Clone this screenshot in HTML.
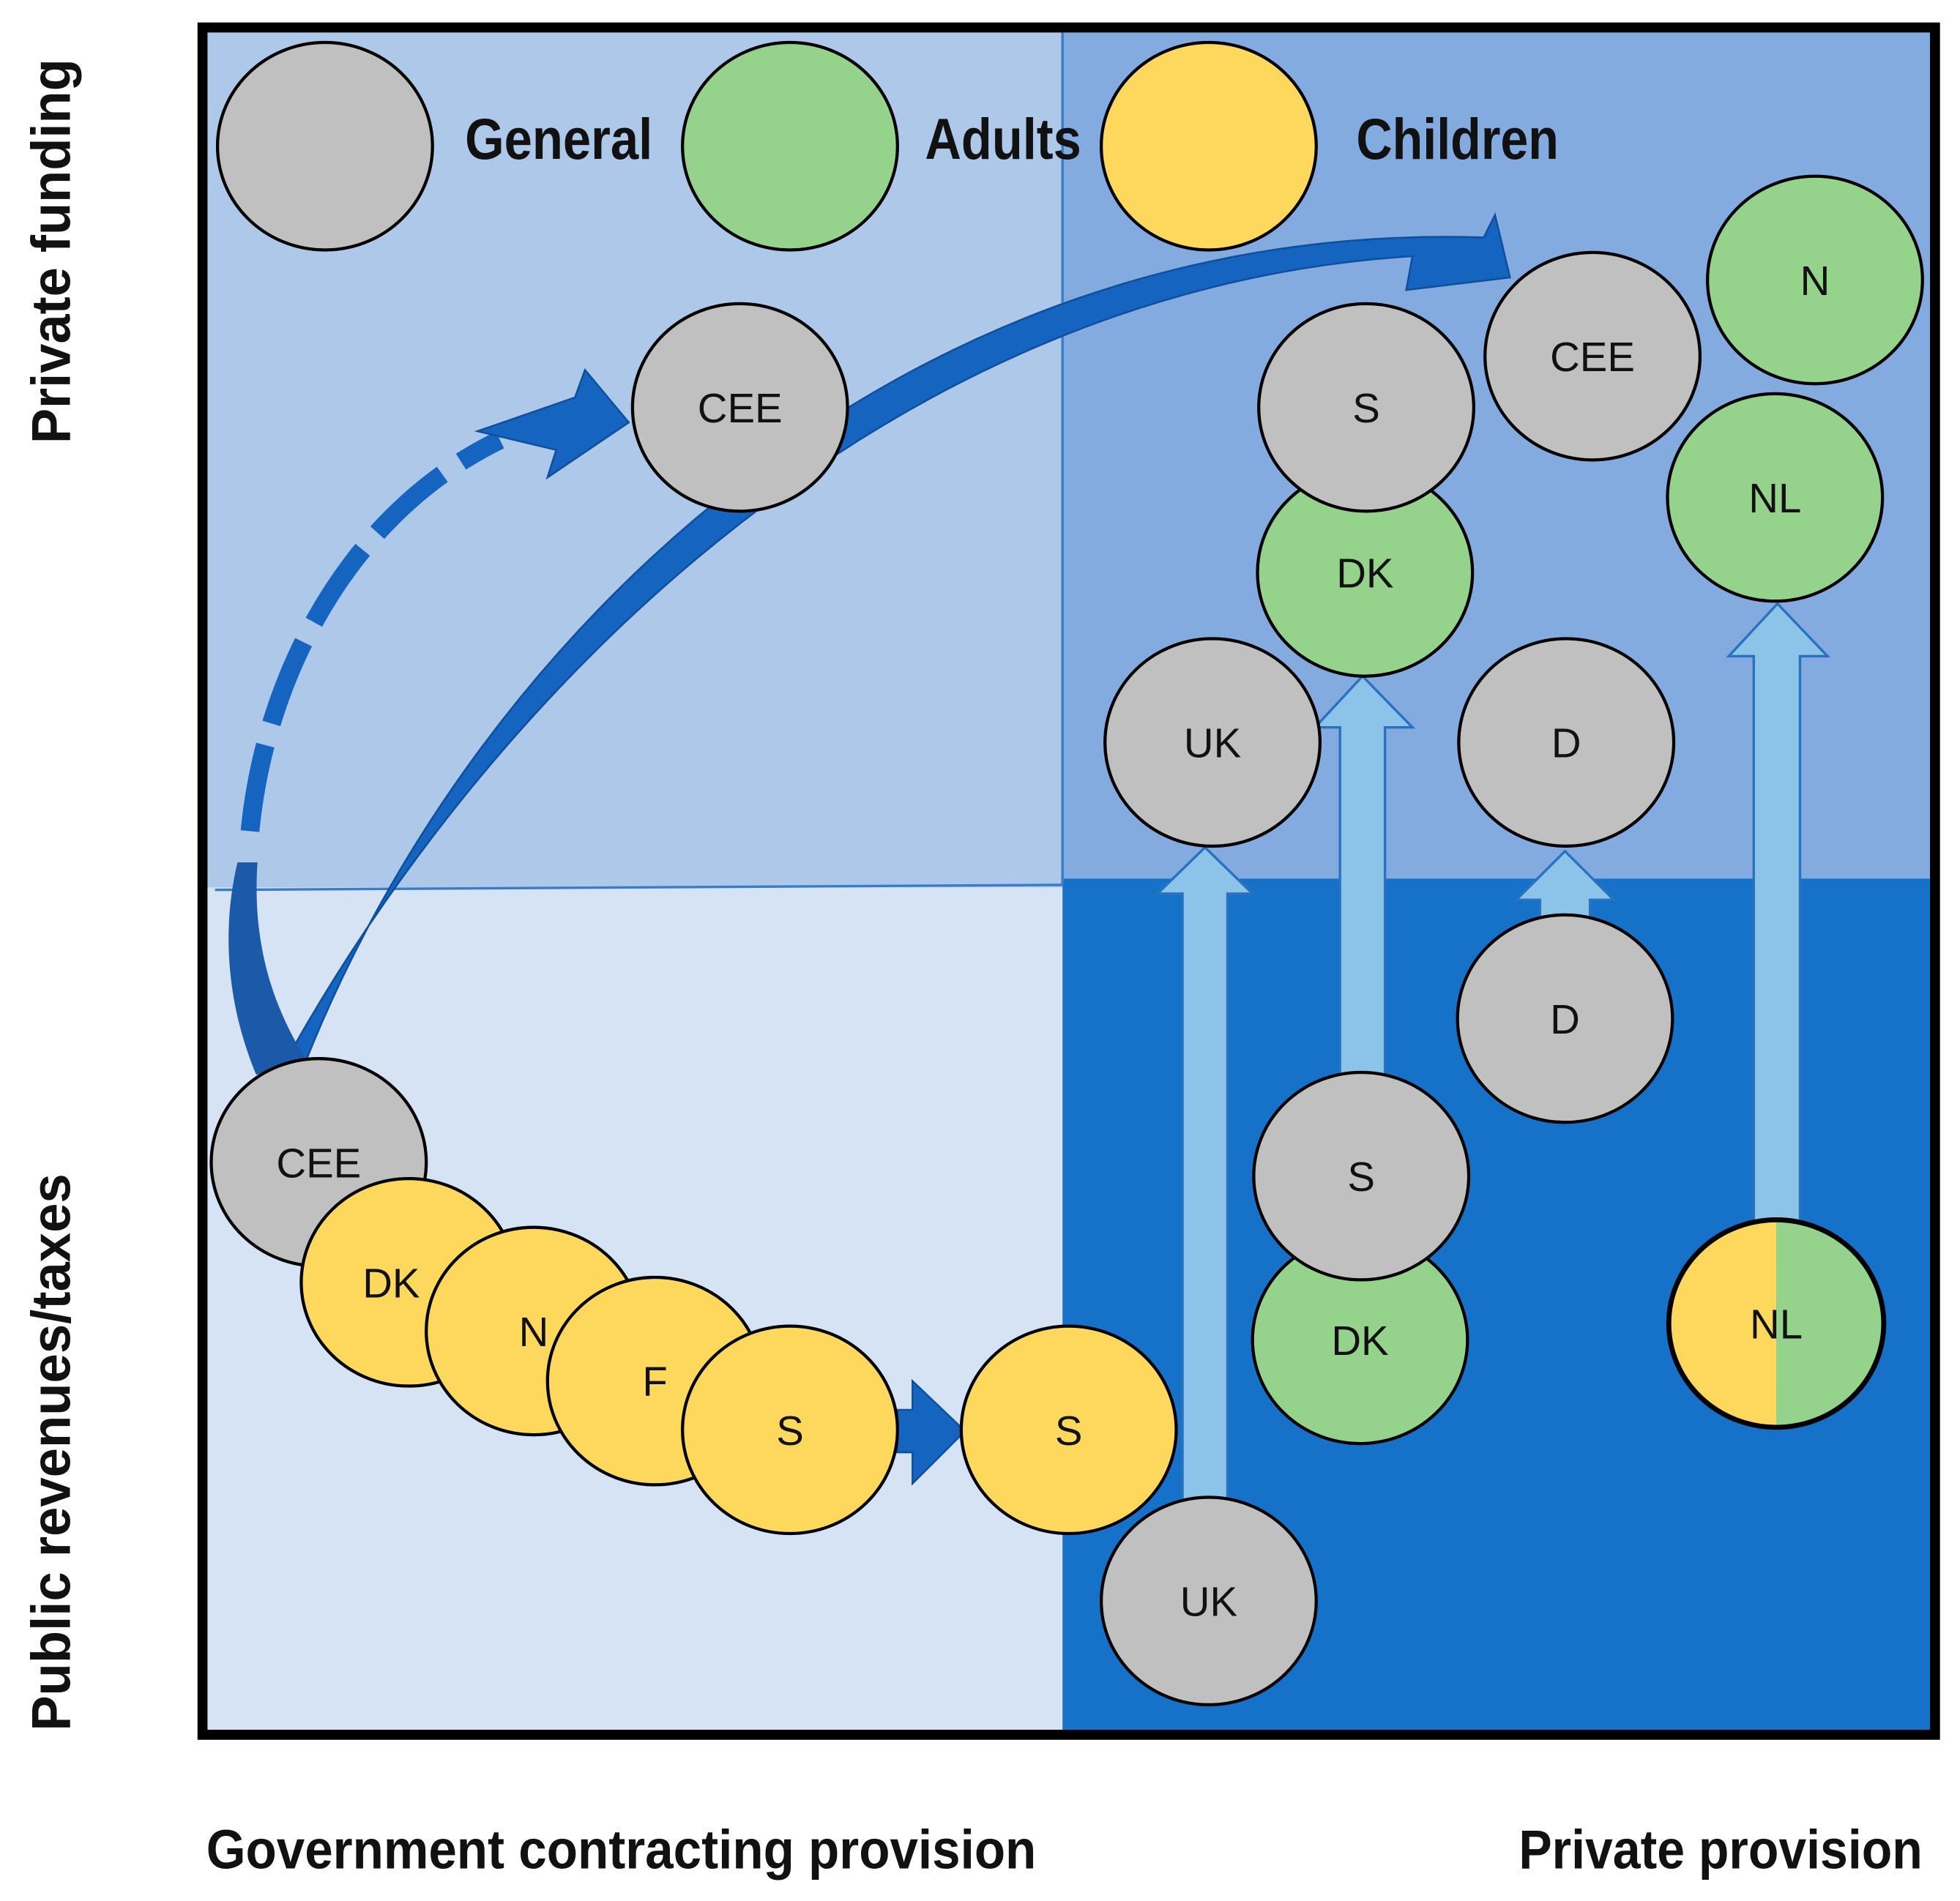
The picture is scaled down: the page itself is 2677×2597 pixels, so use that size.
<!DOCTYPE html>
<html><head><style>html,body{margin:0;padding:0;background:#fff}svg{display:block}</style></head><body>
<svg width="2677" height="2597" viewBox="0 0 1568 1521" preserveAspectRatio="none" xmlns="http://www.w3.org/2000/svg" font-family="'Liberation Sans', sans-serif">
<rect x="164" y="24" width="686" height="688" fill="#adc8e8"/>
<rect x="850" y="24" width="696" height="680" fill="#84abe0"/>
<rect x="164" y="710" width="686" height="676" fill="#d6e3f4"/>
<rect x="850" y="703" width="696" height="683" fill="#1672c9"/>
<line x1="850" y1="24" x2="850" y2="708" stroke="#3a7cc9" stroke-width="2"/>
<line x1="172" y1="712" x2="850" y2="708" stroke="#3a7cc9" stroke-width="2"/>
<rect x="162" y="22" width="1386" height="1366" fill="none" stroke="#000" stroke-width="8"/>
<g stroke="#000" stroke-width="2.5">
<ellipse cx="260" cy="117" rx="86" ry="83" fill="#c0c0c0"/>
<ellipse cx="632" cy="117" rx="86" ry="83" fill="#95d28b"/>
<ellipse cx="967" cy="117" rx="86" ry="83" fill="#fed85d"/>
</g>
<g font-weight="bold" font-size="46" fill="#111">
<text x="372" y="127" textLength="150" lengthAdjust="spacingAndGlyphs">General</text>
<text x="740" y="127" textLength="125" lengthAdjust="spacingAndGlyphs">Adults</text>
<text x="1085" y="127" textLength="162" lengthAdjust="spacingAndGlyphs">Children</text>
</g>
<path d="M228 850 C 400 540, 720 230, 1130 205 L 1125 232 L 1208 222 L 1196 172 L 1187 190 C 720 175, 380 510, 245 848 Z" fill="#1565c0" stroke="#0e4f9e" stroke-width="1.5"/>
<path d="M205 860 C 180 800, 178 740, 190 690 L 206 690 C 202 750, 215 800, 245 848 Z" fill="#1a5aa8"/>
<path d="M200 665 C 212 540, 280 410, 400 352" fill="none" stroke="#1565c0" stroke-width="15" stroke-dasharray="70 18"/>
<polygon points="382,345 460,318 468,296 503,338 438,382 445,360" fill="#1565c0" stroke="#0e4f9e" stroke-width="1.5"/>
<polygon points="718,1128 730,1128 730,1105 772,1145 730,1187 730,1162 718,1162" fill="#1565c0" stroke="#0e4f9e" stroke-width="1.5"/>
<g fill="#8cc3e8" stroke="#2a72c0" stroke-width="2">
<polygon points="946,1200 946,715 926,715 964,678 1002,715 982,715 982,1200"/>
<polygon points="1072,860 1072,582 1052,582 1090,541 1130,582 1108,582 1108,860"/>
<polygon points="1232,735 1232,720 1213,720 1252,681 1291,720 1272,720 1272,735"/>
<polygon points="1403,978 1403,525 1383,525 1422,483 1462,525 1440,525 1440,978"/>
</g>
<g stroke="#000" stroke-width="2.5">
<ellipse cx="592" cy="326" rx="86" ry="83" fill="#c0c0c0"/>
<ellipse cx="1274" cy="285" rx="86" ry="83" fill="#c0c0c0"/>
<ellipse cx="1452" cy="224" rx="86" ry="83" fill="#95d28b"/>
<ellipse cx="1420" cy="398" rx="86" ry="83" fill="#95d28b"/>
<ellipse cx="1092" cy="458" rx="86" ry="83" fill="#95d28b"/>
<ellipse cx="1093" cy="326" rx="86" ry="83" fill="#c0c0c0"/>
<ellipse cx="970" cy="594" rx="86" ry="83" fill="#c0c0c0"/>
<ellipse cx="1253" cy="594" rx="86" ry="83" fill="#c0c0c0"/>
<ellipse cx="1252" cy="815" rx="86" ry="83" fill="#c0c0c0"/>
<ellipse cx="1088" cy="1072" rx="86" ry="83" fill="#95d28b"/>
<ellipse cx="1089" cy="941" rx="86" ry="83" fill="#c0c0c0"/>
<ellipse cx="967" cy="1281" rx="86" ry="83" fill="#c0c0c0"/>
<ellipse cx="855" cy="1144" rx="86" ry="83" fill="#fed85d"/>
<ellipse cx="255" cy="930" rx="86" ry="83" fill="#c0c0c0"/>
<ellipse cx="327" cy="1026" rx="86" ry="83" fill="#fed85d"/>
<ellipse cx="427" cy="1065" rx="86" ry="83" fill="#fed85d"/>
<ellipse cx="524" cy="1105" rx="86" ry="83" fill="#fed85d"/>
<ellipse cx="632" cy="1144" rx="86" ry="83" fill="#fed85d"/>
</g>
<path d="M1421 976 A86 83 0 0 0 1421 1142 Z" fill="#fed85d"/>
<path d="M1421 976 A86 83 0 0 1 1421 1142 Z" fill="#95d28b"/>
<ellipse cx="1421" cy="1059" rx="86" ry="83" fill="none" stroke="#000" stroke-width="4"/>
<g font-size="33" fill="#111" text-anchor="middle">
<text x="592" y="338">CEE</text>
<text x="1274" y="297">CEE</text>
<text x="1452" y="236">N</text>
<text x="1420" y="410">NL</text>
<text x="1092" y="470">DK</text>
<text x="1093" y="338">S</text>
<text x="970" y="606">UK</text>
<text x="1253" y="606">D</text>
<text x="1252" y="827">D</text>
<text x="1088" y="1084">DK</text>
<text x="1089" y="953">S</text>
<text x="967" y="1293">UK</text>
<text x="855" y="1156">S</text>
<text x="255" y="942">CEE</text>
<text x="313" y="1038">DK</text>
<text x="427" y="1077">N</text>
<text x="524" y="1117">F</text>
<text x="632" y="1156">S</text>
<text x="1421" y="1071">NL</text>
</g>
<g font-weight="bold" font-size="44" fill="#111">
<text transform="translate(56,355) rotate(-90)" textLength="308" lengthAdjust="spacingAndGlyphs">Private funding</text>
<text transform="translate(56,1385) rotate(-90)" textLength="446" lengthAdjust="spacingAndGlyphs">Public revenues/taxes</text>
<text x="165" y="1495" textLength="664" lengthAdjust="spacingAndGlyphs">Government contracting provision</text>
<text x="1215" y="1495" textLength="323" lengthAdjust="spacingAndGlyphs">Private provision</text>
</g>
</svg>
</body></html>
